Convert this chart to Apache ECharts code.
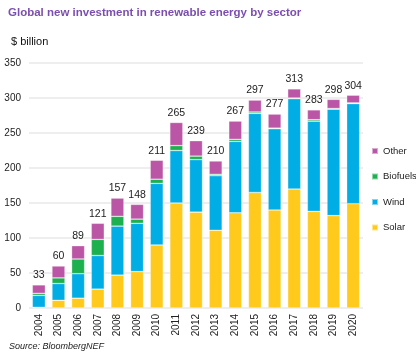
<!DOCTYPE html>
<html lang="en">
<head>
    <meta charset="UTF-8">
    <title>Renewable investment</title>
    <script src="https://cdn.jsdelivr.net/npm/echarts@6/dist/echarts.min.js"></script>
    <style>
        html, body { margin: 0; padding: 0; background: #fff; }
        #chart { width: 416px; height: 352px; }
    </style>
</head>
<body>
<div id="chart"></div>
<script>
    // data ($ billion)
    const years = ['2004', '2005', '2006', '2007', '2008', '2009', '2010', '2011', '2012',
        '2013', '2014', '2015', '2016', '2017', '2018', '2019', '2020']
    const solar = [1, 11, 14, 27, 47, 52, 90, 150, 137, 111, 136, 165, 140, 170, 138, 132, 149]
    const wind = [17, 24, 35, 48, 70, 69, 88, 75, 75, 78, 102, 113, 116, 129, 129, 152, 143]
    const biofuels = [3, 8, 21, 23, 14, 6, 6, 7, 5, 2, 3, 2, 1, 1, 2, 1, 1]
    const other = [12, 17, 19, 23, 26, 21, 27, 33, 22, 19, 26, 17, 20, 13, 14, 13, 11]
    const totals = [33, 60, 89, 121, 157, 148, 211, 265, 239, 210, 267, 297, 277, 313, 283, 298, 304]

    const font = 'Liberation Sans, Arial, sans-serif'
    const chart = echarts.init(document.getElementById('chart'))

    function seg(name, data, color) {
        return {
            name: name,
            type: 'bar',
            stack: 'all',
            data: data,
            barWidth: 13,
            itemStyle: {color: color, borderColor: 'rgba(255,255,255,0.5)', borderWidth: 0.6}
        }
    }

    const topSeries = seg('Other', other, '#bb55a5')
    topSeries.label = {
        show: true,
        position: 'top',
        distance: 4,
        color: '#222',
        fontSize: 10.5,
        fontFamily: font,
        formatter: p => totals[p.dataIndex]
    }

    chart.setOption({
        animation: false,
        title: [{
            text: 'Global new investment in renewable energy by sector',
            left: 3, top: 2,
            textStyle: {color: '#7b4fae', fontSize: 11.5, fontWeight: 'bold', fontFamily: font}
        }, {
            text: '$ billion',
            left: 6, top: 31,
            textStyle: {color: '#111', fontSize: 11, fontWeight: 'normal', fontFamily: font}
        }, {
            text: 'Source: BloombergNEF',
            left: 4, top: 337,
            textStyle: {color: '#222', fontSize: 9, fontWeight: 'normal', fontStyle: 'italic', fontFamily: font}
        }],
        legend: {
            orient: 'vertical',
            left: 366, top: 141,
            itemWidth: 6, itemHeight: 6,
            itemGap: 15.5,
            icon: 'rect',
            data: ['Other', 'Biofuels', 'Wind', 'Solar'],
            textStyle: {color: '#222', fontSize: 9.5, fontFamily: font}
        },
        grid: {left: 29, right: 53, top: 63, bottom: 44},
        xAxis: {
            type: 'category',
            data: years,
            axisLine: {show: false},
            axisTick: {show: false},
            axisLabel: {rotate: 90, color: '#222', fontSize: 10, fontFamily: font, margin: 6}
        },
        yAxis: {
            type: 'value',
            min: 0, max: 350, interval: 50,
            axisLine: {show: false},
            axisTick: {show: false},
            axisLabel: {color: '#222', fontSize: 10, fontFamily: font, margin: 8},
            splitLine: {lineStyle: {color: '#e9e9e9', width: 1.5}}
        },
        series: [
            seg('Solar', solar, '#ffca1c'),
            seg('Wind', wind, '#00ade5'),
            seg('Biofuels', biofuels, '#1db04f'),
            topSeries
        ]
    })
</script>
</body>
</html>
